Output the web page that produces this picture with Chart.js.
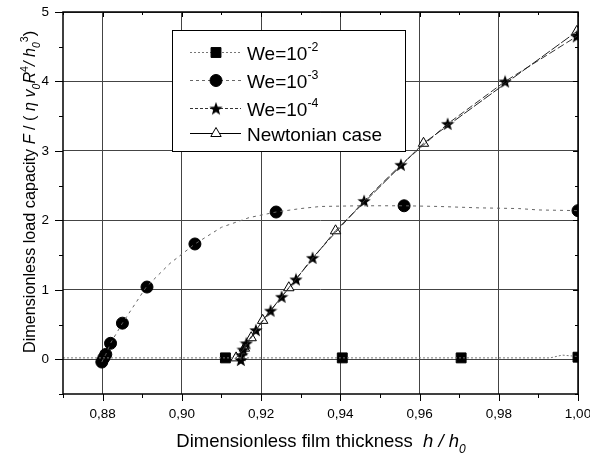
<!DOCTYPE html>
<html>
<head>
<meta charset="utf-8">
<script src="https://cdn.jsdelivr.net/npm/chart.js@4/dist/chart.umd.min.js"></script>
<style>
  html, body { margin: 0; padding: 0; background: #fff; }
</style>
</head>
<body>
<canvas id="chart" width="590" height="461"></canvas>
<script>
// tick values
var xTicks = [0.88, 0.90, 0.92, 0.94, 0.96, 0.98, 1.00];
var yTicks = [0, 1, 2, 3, 4, 5];

// We = 10^-2 : line + square markers
var we2LineX = [0.870, 0.880, 0.900, 0.920, 0.940, 0.960, 0.980, 0.993, 0.996, 1.000];
var we2LineY = [0.02, 0.02, 0.02, 0.02, 0.02, 0.02, 0.02, 0.02, 0.06, 0.04];
var we2MarkX = [0.911, 0.9405, 0.9705, 1.000];
var we2MarkY = [0.02, 0.02, 0.02, 0.03];

// We = 10^-3 : line + circle markers
var we3LineX = [0.8798, 0.8803, 0.8808, 0.882, 0.885, 0.891, 0.897, 0.9033, 0.910, 0.917, 0.9238, 0.930, 0.935, 0.945, 0.9561, 0.965, 0.975, 0.985, 0.990, 1.000];
var we3LineY = [-0.04, 0.02, 0.07, 0.23, 0.52, 1.04, 1.38, 1.66, 1.90, 2.04, 2.12, 2.17, 2.20, 2.21, 2.21, 2.20, 2.18, 2.17, 2.15, 2.14];
var we3MarkX = [0.8798, 0.8803, 0.8808, 0.882, 0.885, 0.8912, 0.9033, 0.9238, 0.9561, 1.000];
var we3MarkY = [-0.04, 0.02, 0.07, 0.23, 0.52, 1.04, 1.66, 2.12, 2.21, 2.14];

// We = 10^-4 : dashed line with star markers
var we4X = [0.9149, 0.9151, 0.9155, 0.9163, 0.9187, 0.9224, 0.9252, 0.9288, 0.933, 0.946, 0.9553, 0.9671, 0.9816, 0.9997];
var we4Y = [-0.01, 0.06, 0.14, 0.23, 0.42, 0.70, 0.90, 1.15, 1.46, 2.28, 2.80, 3.39, 4.00, 4.65];

// Newtonian case : solid line with open triangles
var newtX = [0.9137, 0.9158, 0.9175, 0.9204, 0.927, 0.9388, 0.961, 0.9997];
var newtY = [0.02, 0.16, 0.31, 0.56, 1.03, 1.85, 3.11, 4.72];

var legendLabels = [['We=10', '-2'], ['We=10', '-3'], ['We=10', '-4'], ['Newtonian case', '']];

function pts(xs, ys) {
  return xs.map(function (x, i) { return { x: x, y: ys[i] }; });
}

function starImage(size) {
  var c = document.createElement('canvas');
  c.width = c.height = size;
  var g = c.getContext('2d');
  var r = size / 2, ri = r * 0.42;
  g.beginPath();
  for (var i = 0; i < 10; i++) {
    var a = -Math.PI / 2 + i * Math.PI / 5;
    var rr = i % 2 ? ri : r;
    g.lineTo(r + rr * Math.cos(a), r + 0.6 + rr * Math.sin(a));
  }
  g.closePath();
  g.fillStyle = '#000';
  g.fill();
  return c;
}
var star = starImage(14);

var FONT = '"Liberation Sans", Arial, sans-serif';

// draws text made of normal / italic / sub / sup pieces, returns width
function richText(ctx, parts, x, y, size, measureOnly) {
  var w = 0;
  parts.forEach(function (p) {
    var s = p.sub || p.sup ? size * 0.65 : size;
    ctx.font = (p.it ? 'italic ' : '') + s + 'px ' + FONT;
    var dy = p.sub ? size * 0.3 : (p.sup ? -size * 0.45 : 0);
    if (!measureOnly) ctx.fillText(p.t, x + w, y + dy);
    w += ctx.measureText(p.t).width;
  });
  return w;
}

var yTitle = [
  { t: 'Dimensionless load capacity ' }, { t: 'F', it: 1 }, { t: ' / ( ' },
  { t: 'η v', it: 1 }, { t: '0', it: 1, sub: 1 }, { t: 'R', it: 1 }, { t: '4', sup: 1 },
  { t: '/ h', it: 1 }, { t: '0', it: 1, sub: 1 }, { t: '3', sup: 1 }, { t: ')' }
];
var xTitle = [
  { t: 'Dimensionless film thickness  ' }, { t: 'h / h', it: 1 }, { t: '0', it: 1, sub: 1 }
];

var decor = {
  id: 'decor',
  afterDraw: function (chart) {
    var ctx = chart.ctx, a = chart.chartArea;
    var xs = chart.scales.x, ys = chart.scales.y;
    ctx.save();
    // frame
    ctx.strokeStyle = '#000';
    ctx.lineWidth = 1.5;
    ctx.strokeRect(a.left, a.top, a.right - a.left, a.bottom - a.top);
    ctx.lineWidth = 1;
    ctx.beginPath();
    for (var v = 0.87; v <= 1.0001; v += 0.01) {
      var px = Math.round(xs.getPixelForValue(v)) + 0.5;
      var major = Math.round(v * 100) % 2 === 0;
      ctx.moveTo(px, a.bottom); ctx.lineTo(px, a.bottom + (major ? 7 : 4));
      ctx.moveTo(px, a.top); ctx.lineTo(px, a.top + (major ? 5 : 3));
    }
    for (var u = -0.5; u <= 5.0001; u += 0.5) {
      var py = Math.round(ys.getPixelForValue(u)) + 0.5;
      var maj = Math.abs(u - Math.round(u)) < 0.01;
      ctx.moveTo(a.left, py); ctx.lineTo(a.left - (maj ? 8 : 4), py);
      ctx.moveTo(a.right, py); ctx.lineTo(a.right - (maj ? 5 : 3), py);
    }
    ctx.stroke();

    // axis titles
    ctx.fillStyle = '#000';
    ctx.textBaseline = 'alphabetic';
    var wx = richText(ctx, xTitle, 0, 0, 18.5, true);
    richText(ctx, xTitle, 321 - wx / 2, 447, 18.5);
    var wy = richText(ctx, yTitle, 0, 0, 16.2, true);
    ctx.save();
    ctx.translate(35, 192);
    ctx.rotate(-Math.PI / 2);
    richText(ctx, yTitle, -wy / 2, 0, 16.2);
    ctx.restore();

    // legend box
    ctx.fillStyle = '#fff';
    ctx.fillRect(172, 30, 233, 121);
    ctx.strokeStyle = '#000';
    ctx.lineWidth = 1;
    ctx.strokeRect(172.5, 30.5, 233, 121);
    var rows = [52, 80, 108, 133];
    chart.data.datasets.filter(function (d) { return d.legendRow !== undefined; }).forEach(function (d) {
      var ry = rows[d.legendRow] + 0.5;
      ctx.strokeStyle = d.lineColor;
      ctx.lineWidth = 1;
      ctx.setLineDash(d.lineDash);
      ctx.beginPath(); ctx.moveTo(190, ry); ctx.lineTo(241, ry); ctx.stroke();
      ctx.setLineDash([]);
      ctx.fillStyle = d.backgroundColor;
      ctx.strokeStyle = d.borderColor;
      ctx.lineWidth = d.borderWidth || 1;
      Chart.helpers.drawPoint(ctx, { pointStyle: d.pointStyle, radius: d.pointRadius, rotation: 0, borderWidth: d.borderWidth || 1 }, 216, ry);
      ctx.fillStyle = '#000';
      var lab = legendLabels[d.legendRow];
      richText(ctx, [{ t: lab[0] }, { t: lab[1], sup: 1 }], 247, ry + 7, 19);
    });
    ctx.restore();
  }
};

function lineSet(data, color, dash, width) {
  return { data: data, showLine: true, pointRadius: 0, borderColor: color, borderWidth: width || 1,
           borderDash: dash, fill: false, tension: 0 };
}
function markSet(data, style, radius, bg, row, lineColor, lineDash) {
  return { data: data, showLine: false, pointStyle: style, pointRadius: radius, backgroundColor: bg,
           borderColor: '#000', borderWidth: 1, legendRow: row, lineColor: lineColor, lineDash: lineDash };
}

var ctx = document.getElementById('chart');
var myChart = new Chart(ctx, {
  type: 'scatter',
  data: {
    datasets: [
      lineSet(pts(we2LineX, we2LineY), '#777', [2, 2]),
      lineSet(pts(we3LineX, we3LineY), '#666', [3, 4]),
      lineSet(pts(newtX, newtY), '#222', [10, 2]),
      lineSet(pts(we4X, we4Y), '#333', [7, 3]),
      markSet(pts(we2MarkX, we2MarkY), 'rect', 7, '#000', 0, '#777', [2, 2]),
      markSet(pts(we3MarkX, we3MarkY), 'circle', 6, '#000', 1, '#666', [3, 3]),
      markSet(pts(we4X, we4Y), star, 6, '#000', 2, '#333', [3, 2]),
      markSet(pts(newtX, newtY), 'triangle', 6, '#fff', 3, '#000', [])
    ]
  },
  options: {
    responsive: false,
    animation: false,
    events: [],
    layout: { padding: { top: 12, right: 12, left: 0, bottom: 0 } },
    plugins: { legend: { display: false }, tooltip: { enabled: false } },
    scales: {
      x: {
        type: 'linear', min: 0.87, max: 1.0,
        afterBuildTicks: function (s) { s.ticks = xTicks.map(function (v) { return { value: v }; }); },
        afterFit: function (s) { s.height = 67; s.paddingLeft = 0; s.paddingRight = 0; },
        ticks: {
          padding: 12, color: '#000', font: { family: FONT, size: 13.5 },
          maxRotation: 0, autoSkip: false,
          callback: function (v) { return v.toFixed(2).replace('.', ','); }
        },
        grid: { color: '#444', lineWidth: 1, drawTicks: false },
        border: { display: false }
      },
      y: {
        type: 'linear', min: -0.5, max: 5,
        afterBuildTicks: function (s) { s.ticks = yTicks.map(function (v) { return { value: v }; }); },
        afterFit: function (s) { s.width = 63; s.paddingTop = 0; s.paddingBottom = 0; },
        ticks: { padding: 14, color: '#000', font: { family: FONT, size: 13.5 } },
        grid: { color: '#444', lineWidth: 1, drawTicks: false },
        border: { display: false }
      }
    }
  },
  plugins: [decor]
});
</script>
</body>
</html>
